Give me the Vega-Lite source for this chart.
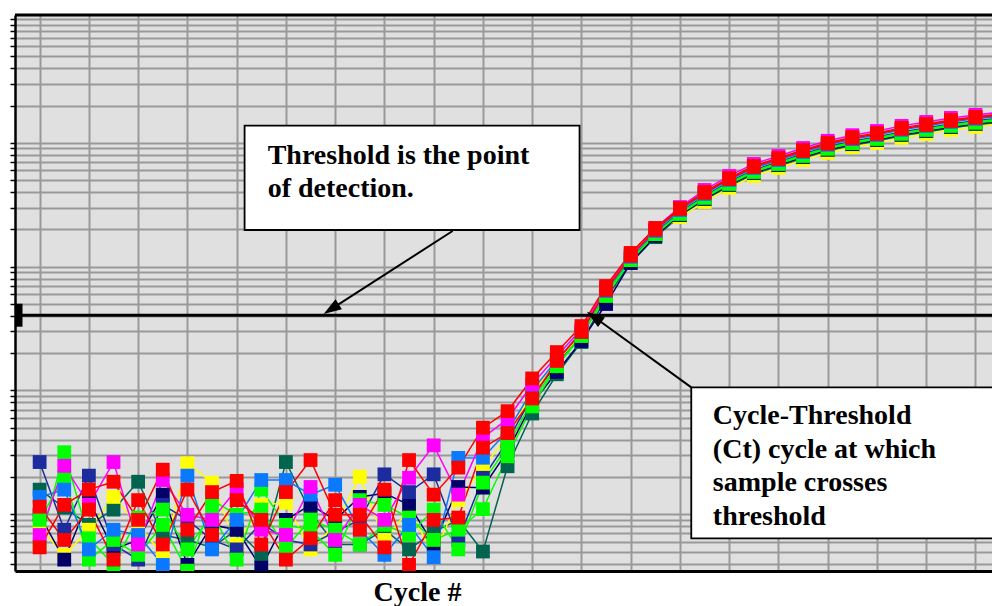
{
  "$schema": "https://vega.github.io/schema/vega-lite/v6.json",
  "width": 977,
  "height": 556,
  "autosize": {"type": "none"},
  "padding": {"left": 15, "top": 15, "right": 0, "bottom": 35},
  "background": "#ffffff",
  "config": {"view": {"fill": "#e0e0e0", "stroke": null}},
  "datasets": {
    "runs": [
      {"cycle": 1, "red": 0.00054, "red2": 0.00115, "magenta": 0.00068, "yellow": 0.00079, "lime": 0.00057, "lime2": 0.0009, "teal": 0.00158, "azure": 0.00138, "navy": 0.00099, "royal": 0.00264},
      {"cycle": 2, "red": 0.00119, "red2": 0.00062, "magenta": 0.00246, "yellow": 0.00047, "lime": 0.00317, "lime2": 0.00201, "teal": 0.00113, "azure": 0.00158, "navy": 0.00043, "royal": 0.00075},
      {"cycle": 3, "red": 0.00158, "red2": 0.00109, "magenta": 0.00119, "yellow": 0.00075, "lime": 0.00064, "lime2": 0.00043, "teal": 0.00082, "azure": 0.00052, "navy": 0.0013, "royal": 0.00205},
      {"cycle": 4, "red": 0.00183, "red2": 0.00043, "magenta": 0.00264, "yellow": 0.00138, "lime": 0.00039, "lime2": 0.00062, "teal": 0.00109, "azure": 0.00075, "navy": 0.00052, "royal": 0.00057},
      {"cycle": 5, "red": 0.0009, "red2": 0.0013, "magenta": 0.00057, "yellow": 0.00082, "lime": 0.00094, "lime2": 0.00047, "teal": 0.00183, "azure": 0.00068, "navy": 0.00062, "royal": 0.00043},
      {"cycle": 6, "red": 0.00229, "red2": 0.00057, "magenta": 0.00189, "yellow": 0.00047, "lime": 0.00109, "lime2": 0.00082, "teal": 0.00068, "azure": 0.00039, "navy": 0.00144, "royal": 0.00119},
      {"cycle": 7, "red": 0.00075, "red2": 0.00158, "magenta": 0.00099, "yellow": 0.00258, "lime": 0.00052, "lime2": 0.00035, "teal": 0.00062, "azure": 0.00205, "navy": 0.00039, "royal": 0.0009},
      {"cycle": 8, "red": 0.00151, "red2": 0.00068, "magenta": 0.0009, "yellow": 0.0018, "lime": 0.00102, "lime2": 0.0013, "teal": 0.00054, "azure": 0.00052, "navy": 0.00082, "royal": 0.00062},
      {"cycle": 9, "red": 0.00186, "red2": 0.0013, "magenta": 0.0016, "yellow": 0.00057, "lime": 0.00043, "lime2": 0.00099, "teal": 0.00075, "azure": 0.0009, "navy": 0.00075, "royal": 0.00052},
      {"cycle": 10, "red": 0.00057, "red2": 0.0009, "magenta": 0.00075, "yellow": 0.00119, "lime": 0.00158, "lime2": 0.00109, "teal": 0.00047, "azure": 0.00189, "navy": 0.00037, "royal": 0.00085},
      {"cycle": 11, "red": 0.00151, "red2": 0.00043, "magenta": 0.00068, "yellow": 0.00124, "lime": 0.00082, "lime2": 0.00054, "teal": 0.00264, "azure": 0.00189, "navy": 0.0009, "royal": 0.00062},
      {"cycle": 12, "red": 0.00274, "red2": 0.00064, "magenta": 0.00166, "yellow": 0.00052, "lime": 0.00075, "lime2": 0.0009, "teal": 0.00104, "azure": 0.00144, "navy": 0.00119, "royal": 0.00057},
      {"cycle": 13, "red": 0.00099, "red2": 0.0013, "magenta": 0.00062, "yellow": 0.00082, "lime": 0.00047, "lime2": 0.00075, "teal": 0.00057, "azure": 0.00173, "navy": 0.0009, "royal": 0.00072},
      {"cycle": 14, "red": 0.00099, "red2": 0.00075, "magenta": 0.00119, "yellow": 0.00201, "lime": 0.0013, "lime2": 0.00057, "teal": 0.00057, "azure": 0.00075, "navy": 0.00138, "royal": 0.0009},
      {"cycle": 15, "red": 0.00054, "red2": 0.00158, "magenta": 0.0009, "yellow": 0.00062, "lime": 0.00119, "lime2": 0.00082, "teal": 0.00075, "azure": 0.00047, "navy": 0.00148, "royal": 0.0021},
      {"cycle": 16, "red": 0.00274, "red2": 0.00039, "magenta": 0.00197, "yellow": 0.00109, "lime": 0.00094, "lime2": 0.00068, "teal": 0.00052, "azure": 0.00082, "navy": 0.00119, "royal": 0.00151},
      {"cycle": 17, "red": 0.00144, "red2": 0.0009, "magenta": 0.0036, "yellow": 0.00047, "lime": 0.00062, "lime2": 0.00109, "teal": 0.00072, "azure": 0.00045, "navy": 0.00057, "royal": 0.0021},
      {"cycle": 18, "red": 0.00238, "red2": 0.00094, "magenta": 0.00144, "yellow": 0.0013, "lime": 0.00075, "lime2": 0.00052, "teal": 0.0009, "azure": 0.00285, "navy": 0.00166, "royal": 0.00062},
      {"cycle": 19, "red": 0.005, "red2": 0.00345, "magenta": 0.00415, "yellow": 0.00238, "lime": 0.0011, "lime2": 0.0018, "teal": 0.0005, "azure": 0.00286, "navy": 0.00164, "royal": 0.00197},
      {"cycle": 20, "red": 0.0068, "red2": 0.00452, "magenta": 0.00586, "yellow": 0.00427, "lime": 0.00294, "lime2": 0.00354, "teal": 0.00244, "azure": 0.00469, "navy": 0.00323, "royal": 0.00389},
      {"cycle": 21, "red": 0.0125, "red2": 0.00861, "magenta": 0.0112, "yellow": 0.00946, "lime": 0.00743, "lime2": 0.0083, "teal": 0.00651, "azure": 0.01, "navy": 0.00785, "royal": 0.00895},
      {"cycle": 22, "red": 0.0204, "red2": 0.0173, "magenta": 0.0189, "yellow": 0.0169, "lime": 0.0157, "lime2": 0.0157, "teal": 0.0135, "azure": 0.0176, "navy": 0.0141, "royal": 0.0163},
      {"cycle": 23, "red": 0.0331, "red2": 0.0296, "magenta": 0.0313, "yellow": 0.0285, "lime": 0.028, "lime2": 0.0275, "teal": 0.0246, "azure": 0.0296, "navy": 0.0251, "royal": 0.0275},
      {"cycle": 24, "red": 0.0697, "red2": 0.0647, "magenta": 0.0672, "yellow": 0.0623, "lime": 0.0579, "lime2": 0.0601, "teal": 0.0558, "azure": 0.0635, "navy": 0.0499, "royal": 0.0601},
      {"cycle": 25, "red": 0.129, "red2": 0.122, "magenta": 0.127, "yellow": 0.118, "lime": 0.113, "lime2": 0.113, "teal": 0.107, "azure": 0.12, "navy": 0.107, "royal": 0.115},
      {"cycle": 26, "red": 0.205, "red2": 0.198, "magenta": 0.205, "yellow": 0.187, "lime": 0.183, "lime2": 0.183, "teal": 0.173, "azure": 0.194, "navy": 0.177, "royal": 0.187},
      {"cycle": 27, "red": 0.297, "red2": 0.292, "magenta": 0.303, "yellow": 0.251, "lime": 0.271, "lime2": 0.266, "teal": 0.256, "azure": 0.286, "navy": 0.261, "royal": 0.276},
      {"cycle": 28, "red": 0.401, "red2": 0.394, "magenta": 0.416, "yellow": 0.333, "lime": 0.365, "lime2": 0.359, "teal": 0.346, "azure": 0.386, "navy": 0.352, "royal": 0.372},
      {"cycle": 29, "red": 0.52, "red2": 0.51, "magenta": 0.54, "yellow": 0.432, "lime": 0.474, "lime2": 0.465, "teal": 0.448, "azure": 0.501, "navy": 0.457, "royal": 0.483},
      {"cycle": 30, "red": 0.65, "red2": 0.638, "magenta": 0.675, "yellow": 0.54, "lime": 0.592, "lime2": 0.581, "teal": 0.56, "azure": 0.626, "navy": 0.571, "royal": 0.603},
      {"cycle": 31, "red": 0.754, "red2": 0.74, "magenta": 0.783, "yellow": 0.626, "lime": 0.687, "lime2": 0.674, "teal": 0.65, "azure": 0.726, "navy": 0.662, "royal": 0.7},
      {"cycle": 32, "red": 0.875, "red2": 0.859, "magenta": 0.908, "yellow": 0.727, "lime": 0.797, "lime2": 0.783, "teal": 0.754, "azure": 0.843, "navy": 0.768, "royal": 0.812},
      {"cycle": 33, "red": 1.0, "red2": 0.982, "magenta": 1.038, "yellow": 0.83, "lime": 0.911, "lime2": 0.894, "teal": 0.862, "azure": 0.964, "navy": 0.878, "royal": 0.928},
      {"cycle": 34, "red": 1.11, "red2": 1.09, "magenta": 1.152, "yellow": 0.922, "lime": 1.011, "lime2": 0.993, "teal": 0.957, "azure": 1.07, "navy": 0.975, "royal": 1.03},
      {"cycle": 35, "red": 1.2, "red2": 1.178, "magenta": 1.246, "yellow": 0.996, "lime": 1.093, "lime2": 1.073, "teal": 1.034, "azure": 1.156, "navy": 1.054, "royal": 1.114},
      {"cycle": 36, "red": 1.32, "red2": 1.296, "magenta": 1.37, "yellow": 1.096, "lime": 1.203, "lime2": 1.181, "teal": 1.138, "azure": 1.272, "navy": 1.159, "royal": 1.225},
      {"cycle": 37, "red": 1.42, "red2": 1.394, "magenta": 1.474, "yellow": 1.179, "lime": 1.294, "lime2": 1.27, "teal": 1.224, "azure": 1.368, "navy": 1.247, "royal": 1.318},
      {"cycle": 38, "red": 1.53, "red2": 1.502, "magenta": 1.588, "yellow": 1.27, "lime": 1.394, "lime2": 1.368, "teal": 1.319, "azure": 1.474, "navy": 1.343, "royal": 1.42},
      {"cycle": 39, "red": 1.62, "red2": 1.59, "magenta": 1.68, "yellow": 1.345, "lime": 1.476, "lime2": 1.449, "teal": 1.396, "azure": 1.561, "navy": 1.422, "royal": 1.504},
      {"cycle": 40, "red": 1.7, "red2": 1.669, "magenta": 1.765, "yellow": 1.412, "lime": 1.549, "lime2": 1.52, "teal": 1.465, "azure": 1.638, "navy": 1.493, "royal": 1.578}
    ],
    "thr": [{"threshold": 0.0405}]
  },
  "layer": [
    {
      "data": {"name": "runs"},
      "transform": [{"fold": ["teal", "yellow", "navy", "royal", "lime2", "lime", "azure", "magenta", "red2", "red"], "as": ["series", "fluorescence"]}],
      "mark": {"type": "line", "strokeWidth": 1.5, "clip": true},
      "encoding": {
        "x": {
          "field": "cycle", "type": "quantitative",
          "scale": {"domain": [0, 39.67], "nice": false, "zero": false},
          "axis": {
            "values": [1,2,3,4,5,6,7,8,9,10,11,12,13,14,15,16,17,18,19,20,21,22,23,24,25,26,27,28,29,30,31,32,33,34,35,36,37,38,39],
            "grid": true, "gridColor": "#999999", "gridWidth": 2,
            "ticks": false, "labels": false,
            "domain": true, "domainColor": "#000000", "domainWidth": 3,
            "title": "Cycle #", "titleFont": "Liberation Serif", "titleFontSize": 28, "titleFontWeight": "bold", "titleColor": "#000000",
            "titleX": 402, "titleY": 29, "titleAlign": "center", "titleBaseline": "alphabetic"
          }
        },
        "y": {
          "field": "fluorescence", "type": "quantitative",
          "scale": {"type": "log", "domain": [0.000348, 10.77], "nice": false},
          "axis": {
            "values": [0.0004,0.0005,0.0006,0.0007,0.0008,0.0009,0.001,0.002,0.003,0.004,0.005,0.006,0.007,0.008,0.009,0.01,0.02,0.03,0.04,0.05,0.06,0.07,0.08,0.09,0.1,0.2,0.3,0.4,0.5,0.6,0.7,0.8,0.9,1,2,3,4,5,6,7,8,9,10],
            "grid": true, "gridColor": "#999999", "gridWidth": 2,
            "ticks": true, "tickSize": 5, "tickColor": "#000000", "tickWidth": 1.5,
            "labels": false,
            "domain": true, "domainColor": "#000000", "domainWidth": 2.5,
            "title": null
          }
        },
        "color": {
          "field": "series", "type": "nominal",
          "scale": {
            "domain": ["teal", "yellow", "navy", "royal", "lime2", "lime", "azure", "magenta", "red2", "red"],
            "range": ["#00644e", "#ffff00", "#000068", "#1c2c9e", "#00ff00", "#00ff00", "#0a78ff", "#ff00ff", "#ff0000", "#ff0000"]
          },
          "legend": null
        }
      }
    },
    {
      "data": {"name": "runs"},
      "transform": [{"fold": ["teal", "yellow", "navy", "royal", "lime2", "lime", "azure", "magenta", "red2", "red"], "as": ["series", "fluorescence"]}],
      "mark": {"type": "point", "shape": "square", "filled": true, "size": 190, "opacity": 1, "strokeWidth": 0, "clip": true},
      "encoding": {
        "x": {"field": "cycle", "type": "quantitative"},
        "y": {"field": "fluorescence", "type": "quantitative"},
        "color": {"field": "series", "type": "nominal", "legend": null}
      }
    },
    {
      "data": {"name": "thr"},
      "mark": {"type": "rule", "color": "#000000", "strokeWidth": 3},
      "encoding": {"y": {"field": "threshold", "type": "quantitative"}}
    },
    {
      "data": {"name": "thr"},
      "mark": {"type": "tick", "orient": "vertical", "color": "#000000", "size": 23, "thickness": 7, "xOffset": 4, "opacity": 1},
      "encoding": {"x": {"datum": 0}, "y": {"field": "threshold", "type": "quantitative"}}
    },
    {
      "data": {"values": [{}]},
      "mark": {"type": "rule", "color": "#000000", "strokeWidth": 3},
      "encoding": {"y": {"datum": 10.77}}
    },
    {
      "data": {"values": [{}]},
      "mark": {"type": "rule", "color": "#000000", "strokeWidth": 2},
      "encoding": {"x": {"datum": 17.767}, "y": {"datum": 0.194}, "x2": {"datum": 12.838}, "y2": {"datum": 0.04536}}
    },
    {
      "data": {"values": [{}]},
      "mark": {"type": "point", "shape": "M0,-1L0.65,1L-0.65,1Z", "filled": true, "color": "#000000", "opacity": 1, "size": 324, "angle": 237, "strokeWidth": 0},
      "encoding": {"x": {"datum": 12.838}, "y": {"datum": 0.04536}}
    },
    {
      "data": {"values": [{}]},
      "mark": {"type": "rect", "fill": "#ffffff", "stroke": "#000000", "strokeWidth": 1.8},
      "encoding": {"x": {"datum": 9.322}, "x2": {"datum": 22.923}, "y": {"datum": 1.374}, "y2": {"datum": 0.1975}}
    },
    {
      "data": {"values": [{}]},
      "mark": {"type": "text", "text": ["Threshold is the point", "of detection."], "align": "left", "baseline": "alphabetic", "font": "Liberation Serif", "fontSize": 28, "fontWeight": "bold", "lineHeight": 33, "color": "#000000"},
      "encoding": {"x": {"datum": 10.26}, "y": {"datum": 0.6704}}
    },
    {
      "data": {"values": [{}]},
      "mark": {"type": "rule", "color": "#000000", "strokeWidth": 2},
      "encoding": {"x": {"datum": 27.459}, "y": {"datum": 0.01059}, "x2": {"datum": 23.516}, "y2": {"datum": 0.03916}}
    },
    {
      "data": {"values": [{}]},
      "mark": {"type": "point", "shape": "M0,-1L0.65,1L-0.65,1Z", "filled": true, "color": "#000000", "opacity": 1, "size": 324, "angle": 306, "strokeWidth": 0},
      "encoding": {"x": {"datum": 23.516}, "y": {"datum": 0.03916}}
    },
    {
      "data": {"values": [{}]},
      "mark": {"type": "rect", "fill": "#ffffff", "stroke": "#000000", "strokeWidth": 1.8, "clip": true},
      "encoding": {"x": {"datum": 27.459}, "x2": {"datum": 45}, "y": {"datum": 0.01059}, "y2": {"datum": 0.000639}}
    },
    {
      "data": {"values": [{}]},
      "mark": {"type": "text", "text": ["Cycle-Threshold", "(Ct) cycle at which", "sample crosses", "threshold"], "align": "left", "baseline": "alphabetic", "font": "Liberation Serif", "fontSize": 28, "fontWeight": "bold", "lineHeight": 33.5, "color": "#000000"},
      "encoding": {"x": {"datum": 28.336}, "y": {"datum": 0.005354}}
    }
  ]
}
